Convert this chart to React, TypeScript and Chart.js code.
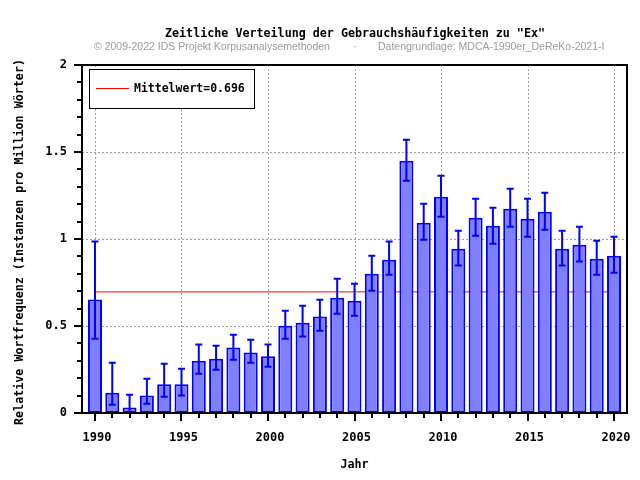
import React, { useEffect, useRef } from "react";
import { Chart, registerables } from "chart.js";

Chart.register(...registerables);

const years = [1990, 1991, 1992, 1993, 1994, 1995, 1996, 1997, 1998, 1999, 2000, 2001, 2002, 2003, 2004, 2005, 2006, 2007, 2008, 2009, 2010, 2011, 2012, 2013, 2014, 2015, 2016, 2017, 2018, 2019, 2020];
const values = [0.653, 0.117, 0.031, 0.100, 0.165, 0.165, 0.301, 0.312, 0.377, 0.347, 0.326, 0.502, 0.519, 0.554, 0.663, 0.645, 0.801, 0.881, 1.450, 1.094, 1.243, 0.944, 1.122, 1.076, 1.174, 1.117, 1.157, 0.944, 0.967, 0.887, 0.904];
const errHigh = [0.985, 0.289, 0.105, 0.197, 0.283, 0.255, 0.393, 0.387, 0.450, 0.421, 0.393, 0.588, 0.617, 0.651, 0.772, 0.743, 0.904, 0.985, 1.571, 1.203, 1.364, 1.048, 1.231, 1.180, 1.289, 1.231, 1.266, 1.048, 1.071, 0.990, 1.013];
const errLow = [0.427, 0.048, 0.000, 0.053, 0.094, 0.100, 0.226, 0.249, 0.306, 0.289, 0.266, 0.427, 0.439, 0.473, 0.571, 0.559, 0.703, 0.795, 1.335, 0.996, 1.128, 0.847, 1.019, 0.973, 1.071, 1.013, 1.053, 0.847, 0.870, 0.795, 0.806];
const meanValue = 0.696;
const meanLabel = "Mittelwert=0.696";

const xMajorTicks = [1990, 1995, 2000, 2005, 2010, 2015, 2020];
const xTickLabels = ["1990", "1995", "2000", "2005", "2010", "2015", "2020"];
const yMajorTicks = [0, 0.5, 1, 1.5, 2];
const yTickLabels = ["0", "0.5", "1", "1.5", "2"];
const yMinorTicks = [0, 0.1, 0.2, 0.3, 0.4, 0.5, 0.6, 0.7, 0.8, 0.9, 1, 1.1, 1.2, 1.3, 1.4, 1.5, 1.6, 1.7, 1.8, 1.9, 2];

const titleText = 'Zeitliche Verteilung der Gebrauchshäufigkeiten zu "Ex"';
const subLeft = "© 2009-2022 IDS Projekt Korpusanalysemethoden";
const subDot = "·";
const subRight = "Datengrundlage: MDCA-1990er_DeReKo-2021-I";
const xTitle = "Jahr";
const yTitle = "Relative Wortfrequenz (Instanzen pro Million Wörter)";

const MONO = "'DejaVu Sans Mono', monospace";
const BLUE = "#0000ff";

const decorPlugin = {
  id: "decor",
  beforeDatasetsDraw(chart: any) {
    const { ctx, chartArea: a, scales } = chart;
    const xs = scales.x, ys = scales.y;
    ctx.save();
    ctx.strokeStyle = "#a0a0a0";
    ctx.lineWidth = 1;
    ctx.setLineDash([2, 2]);
    xMajorTicks.forEach((v) => {
      const px = Math.round(xs.getPixelForValue(v)) + 0.5;
      ctx.beginPath();
      ctx.moveTo(px, a.top);
      ctx.lineTo(px, a.bottom);
      ctx.stroke();
    });
    yMajorTicks.forEach((v) => {
      if (v === 0 || v === 2) return;
      const py = Math.round(ys.getPixelForValue(v)) + 0.5;
      ctx.beginPath();
      ctx.moveTo(a.left, py);
      ctx.lineTo(a.right, py);
      ctx.stroke();
    });
    ctx.restore();
  },
  afterDatasetsDraw(chart: any) {
    const { ctx, scales } = chart;
    const xs = scales.x, ys = scales.y;
    ctx.save();
    ctx.strokeStyle = BLUE;
    ctx.lineWidth = 2;
    years.forEach((yr, i) => {
      const px = xs.getPixelForValue(yr);
      const ph = ys.getPixelForValue(errHigh[i]);
      const pl = ys.getPixelForValue(errLow[i]);
      ctx.beginPath();
      ctx.moveTo(px, ph);
      ctx.lineTo(px, pl);
      ctx.moveTo(px - 3.5, ph);
      ctx.lineTo(px + 3.5, ph);
      ctx.moveTo(px - 3.5, pl);
      ctx.lineTo(px + 3.5, pl);
      ctx.stroke();
    });
    ctx.restore();
  },
  afterDraw(chart: any) {
    const { ctx, chartArea: a, scales } = chart;
    const xs = scales.x, ys = scales.y;
    ctx.save();
    // frame
    ctx.strokeStyle = "#000";
    ctx.lineWidth = 2;
    ctx.strokeRect(a.left, a.top, a.right - a.left, a.bottom - a.top);
    // x ticks
    ctx.lineWidth = 2;
    years.forEach((yr) => {
      const px = Math.round(xs.getPixelForValue(yr));
      const major = xMajorTicks.includes(yr);
      ctx.beginPath();
      ctx.moveTo(px, a.bottom);
      ctx.lineTo(px, a.bottom + (major ? 8 : 5));
      ctx.stroke();
    });
    // y ticks
    yMinorTicks.forEach((v) => {
      const py = Math.round(ys.getPixelForValue(v));
      const major = yMajorTicks.some((m) => Math.abs(m - v) < 1e-6);
      ctx.beginPath();
      ctx.moveTo(a.left, py);
      ctx.lineTo(a.left - (major ? 8 : 5), py);
      ctx.stroke();
    });
    // tick labels
    ctx.fillStyle = "#000";
    ctx.font = `bold 12px ${MONO}`;
    ctx.textBaseline = "middle";
    ctx.textAlign = "center";
    xMajorTicks.forEach((v, i) => {
      ctx.fillText(xTickLabels[i], xs.getPixelForValue(v) + 2, a.bottom + 25);
    });
    ctx.textAlign = "right";
    yMajorTicks.forEach((v, i) => {
      ctx.fillText(yTickLabels[i], a.left - 15, ys.getPixelForValue(v));
    });
    // axis titles
    ctx.textAlign = "center";
    ctx.font = `bold 11.7px ${MONO}`;
    ctx.fillText(xTitle, (a.left + a.right) / 2, 465);
    ctx.save();
    ctx.translate(20, (a.top + a.bottom) / 2 + 3);
    ctx.rotate(-Math.PI / 2);
    ctx.fillText(yTitle, 0, 0);
    ctx.restore();
    // title
    ctx.font = `bold 11.7px ${MONO}`;
    ctx.fillText(titleText, 355, 34);
    // subtitle
    ctx.fillStyle = "#9a9a9a";
    ctx.font = "10.5px 'Liberation Sans', Arial, sans-serif";
    ctx.textAlign = "left";
    ctx.fillText(subLeft, 94, 47);
    ctx.textAlign = "center";
    ctx.fillText(subDot, 355, 47);
    ctx.textAlign = "left";
    ctx.fillText(subRight, 378, 47);
    // legend
    ctx.fillStyle = "#fff";
    ctx.fillRect(89.5, 69.5, 165, 39);
    ctx.strokeStyle = "#000";
    ctx.lineWidth = 1;
    ctx.strokeRect(89.5, 69.5, 165, 39);
    ctx.strokeStyle = "#ff0000";
    ctx.beginPath();
    ctx.moveTo(96, 88.5);
    ctx.lineTo(129, 88.5);
    ctx.stroke();
    ctx.fillStyle = "#000";
    ctx.font = `bold 11.5px ${MONO}`;
    ctx.textAlign = "left";
    ctx.fillText(meanLabel, 134, 89);
    ctx.restore();
  },
};

export default function App() {
  const ref = useRef<HTMLCanvasElement | null>(null);
  useEffect(() => {
    if (!ref.current) return;
    const chart = new Chart(ref.current, {
      type: "bar",
      data: {
        datasets: [
          {
            type: "bar",
            label: "Frequenz",
            data: years.map((y, i) => ({ x: y, y: values[i] })),
            backgroundColor: "#8080ff",
            borderColor: BLUE,
            borderWidth: 2,
            borderSkipped: false,
            barPercentage: 0.81,
            categoryPercentage: 1,
            order: 1,
          } as any,
          {
            type: "line",
            label: meanLabel,
            data: [
              { x: years[0], y: meanValue },
              { x: years[years.length - 1], y: meanValue },
            ],
            borderColor: "#ff0000",
            borderWidth: 1,
            pointRadius: 0,
            fill: false,
            order: 2,
          } as any,
        ],
      },
      options: {
        animation: false,
        responsive: false,
        maintainAspectRatio: false,
        layout: { padding: { left: 82, top: 65, right: 13, bottom: 67 } },
        plugins: { legend: { display: false }, tooltip: { enabled: false }, title: { display: false } },
        scales: {
          x: { type: "linear", min: 1989.25, max: 2020.75, display: false, offset: false },
          y: { type: "linear", min: 0, max: 2, display: false },
        },
      },
      plugins: [decorPlugin],
    });
    return () => chart.destroy();
  }, []);
  return (
    <div style={{ position: "absolute", left: 0, top: 0, width: 640, height: 480, background: "#fff" }}>
      <canvas ref={ref} width={640} height={480} style={{ width: 640, height: 480 }} />
    </div>
  );
}
